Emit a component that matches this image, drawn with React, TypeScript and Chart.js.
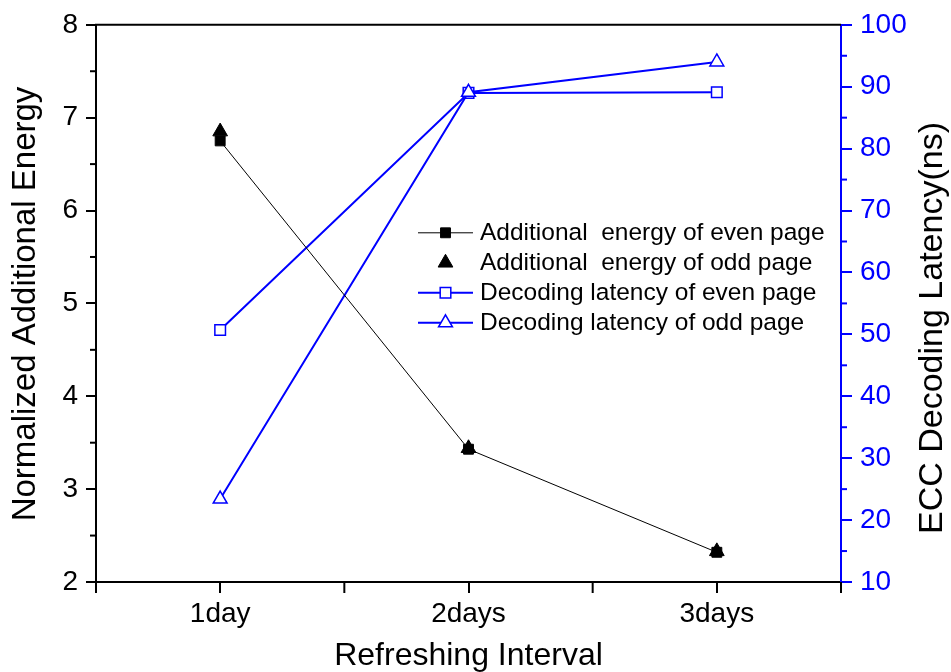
import React, { useEffect, useRef } from 'react';
import { Chart, registerables } from 'chart.js';
import { drawPoint } from 'chart.js/helpers';

Chart.register(...registerables);

const categories = ['1day', '2days', '3days'];
const energyEven = [6.75, 3.43, 2.32];
const energyOdd = [6.85, 3.44, 2.33];
const latencyEven = [50.7, 89.0, 89.1];
const latencyOdd = [23.4, 89.1, 94.0];
const seriesLabels = [
  'Additional  energy of even page',
  'Additional  energy of odd page',
  'Decoding latency of even page',
  'Decoding latency of odd page',
];
const xTitle = 'Refreshing Interval';
const yLeftTitle = 'Normalized Additional Energy';
const yRightTitle = 'ECC Decoding Latency(ns)';

const FONT = "'Liberation Sans', Arial, Helvetica, sans-serif";
const BLUE = '#0000FF';

const decorPlugin = {
  id: 'decor',
  afterDatasetsDraw(chart: any) {
    const { ctx, chartArea } = chart;
    const x0 = chartArea.left + 322;
    const x1 = chartArea.left + 377;
    const mx = (x0 + x1) / 2;
    const tx = chartArea.left + 384;
    const y0 = chartArea.top + 208;
    const dy = 30;
    chart.data.datasets.forEach((ds: any, i: number) => {
      const y = y0 + i * dy;
      ctx.save();
      if (ds.showLine !== false) {
        ctx.strokeStyle = ds.borderColor;
        ctx.lineWidth = ds.borderWidth;
        ctx.beginPath();
        ctx.moveTo(x0, y);
        ctx.lineTo(x1, y);
        ctx.stroke();
      }
      ctx.fillStyle = ds.pointBackgroundColor;
      ctx.strokeStyle = ds.pointBorderColor;
      ctx.lineWidth = ds.pointBorderWidth;
      drawPoint(ctx, { pointStyle: ds.pointStyle, radius: ds.pointRadius, borderWidth: ds.pointBorderWidth, rotation: 0 }, mx, y);
      ctx.fillStyle = '#000';
      ctx.font = `24.5px ${FONT}`;
      ctx.textBaseline = 'middle';
      ctx.textAlign = 'left';
      ctx.fillText(ds.label, tx, y);
      ctx.restore();
    });
  },
  afterDraw(chart: any) {
    const { ctx, chartArea } = chart;
    const { left, right, top, bottom } = chartArea;
    const ys = chart.scales.y;
    const y2 = chart.scales.y2;
    const xs = chart.scales.x;
    ctx.save();
    ctx.strokeStyle = '#000';
    ctx.lineWidth = 2;
    ctx.beginPath();
    ctx.moveTo(left - 1, top);
    ctx.lineTo(right, top);
    ctx.stroke();
    for (let v = 2.5; v < 8; v += 1) {
      const y = ys.getPixelForValue(v);
      ctx.beginPath();
      ctx.moveTo(left - 6, y);
      ctx.lineTo(left, y);
      ctx.stroke();
    }
    const step = xs.getPixelForValue(1) - xs.getPixelForValue(0);
    for (let i = 0; i <= categories.length; i++) {
      const x = xs.getPixelForValue(0) - step / 2 + i * step;
      ctx.beginPath();
      ctx.moveTo(x, bottom);
      ctx.lineTo(x, bottom + 11);
      ctx.stroke();
    }
    ctx.strokeStyle = BLUE;
    for (let v = 15; v < 100; v += 10) {
      const y = y2.getPixelForValue(v);
      ctx.beginPath();
      ctx.moveTo(right, y);
      ctx.lineTo(right + 6, y);
      ctx.stroke();
    }
    ctx.fillStyle = '#000';
    ctx.textAlign = 'center';
    ctx.textBaseline = 'middle';
    ctx.font = `32px ${FONT}`;
    ctx.fillText(xTitle, (left + right) / 2, 656);
    ctx.save();
    ctx.font = `33px ${FONT}`;
    ctx.translate(26, 304);
    ctx.rotate(-Math.PI / 2);
    ctx.fillText(yLeftTitle, 0, 0);
    ctx.restore();
    ctx.save();
    ctx.font = `34px ${FONT}`;
    ctx.translate(933, 328);
    ctx.rotate(-Math.PI / 2);
    ctx.fillText(yRightTitle, 0, 0);
    ctx.restore();
    ctx.restore();
  },
};

export default function App() {
  const ref = useRef<HTMLCanvasElement>(null);
  useEffect(() => {
    const canvas = ref.current!;
    const chart = new Chart(canvas, {
      type: 'line',
      data: {
        labels: categories,
        datasets: [
          {
            label: seriesLabels[0],
            data: energyEven,
            yAxisID: 'y',
            borderColor: '#000',
            borderWidth: 1,
            pointStyle: 'rect',
            pointRadius: 7,
            pointBackgroundColor: '#000',
            pointBorderColor: '#000',
            pointBorderWidth: 1,
            order: 1,
          },
          {
            label: seriesLabels[1],
            data: energyOdd,
            yAxisID: 'y',
            showLine: false,
            borderColor: '#000',
            borderWidth: 1,
            pointStyle: 'triangle',
            pointRadius: 8.5,
            pointBackgroundColor: '#000',
            pointBorderColor: '#000',
            pointBorderWidth: 1,
            order: 2,
          },
          {
            label: seriesLabels[2],
            data: latencyEven,
            yAxisID: 'y2',
            borderColor: BLUE,
            borderWidth: 2,
            pointStyle: 'rect',
            pointRadius: 7.5,
            pointBackgroundColor: '#fff',
            pointBorderColor: BLUE,
            pointBorderWidth: 1.5,
            order: 4,
          },
          {
            label: seriesLabels[3],
            data: latencyOdd,
            yAxisID: 'y2',
            borderColor: BLUE,
            borderWidth: 2,
            pointStyle: 'triangle',
            pointRadius: 8,
            pointBackgroundColor: '#fff',
            pointBorderColor: BLUE,
            pointBorderWidth: 1.5,
            order: 3,
          },
        ],
      },
      options: {
        responsive: false,
        animation: false,
        layout: { padding: { top: 23, left: 0, right: 0, bottom: 0 } },
        plugins: { legend: { display: false }, tooltip: { enabled: false } },
        scales: {
          x: {
            type: 'category',
            offset: true,
            afterFit: (s: any) => { s.height = 90; },
            grid: { display: true, drawOnChartArea: false, offset: false, tickLength: 11, color: '#000', lineWidth: 2 },
            border: { display: true, color: '#000', width: 2 },
            ticks: { color: '#000', font: { family: FONT, size: 28 }, padding: 4, maxRotation: 0 },
          },
          y: {
            type: 'linear',
            position: 'left',
            min: 2,
            max: 8,
            afterFit: (s: any) => { s.width = 96; },
            grid: { display: true, drawOnChartArea: false, tickLength: 10, color: '#000', lineWidth: 2 },
            border: { display: true, color: '#000', width: 2 },
            ticks: { stepSize: 1, color: '#000', font: { family: FONT, size: 28 }, padding: 8 },
          },
          y2: {
            type: 'linear',
            position: 'right',
            min: 10,
            max: 100,
            afterFit: (s: any) => { s.width = 110; },
            grid: { display: true, drawOnChartArea: false, tickLength: 11, color: BLUE, lineWidth: 2 },
            border: { display: true, color: BLUE, width: 2 },
            ticks: { stepSize: 10, color: BLUE, font: { family: FONT, size: 28 }, padding: 8 },
          },
        },
      },
      plugins: [decorPlugin],
    });
    return () => chart.destroy();
  }, []);
  return (
    <div style={{ position: 'absolute', left: 0, top: 0, width: 951, height: 672, background: '#fff' }}>
      <canvas ref={ref} width={951} height={672} style={{ display: 'block' }} />
    </div>
  );
}
